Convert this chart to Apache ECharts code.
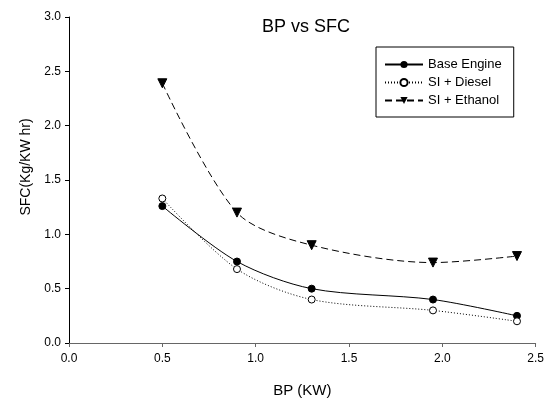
<!DOCTYPE html>
<html>
<head>
<meta charset="utf-8">
<script src="https://cdn.jsdelivr.net/npm/echarts@6/dist/echarts.min.js"></script>
<style>html,body{margin:0;padding:0;background:#fff}#c{width:547px;height:403px}</style>
</head>
<body>
<div id="c"></div>
<script>
var bp = [0.5, 0.9, 1.3, 1.95, 2.4];
var baseEngine = [1.26, 0.75, 0.50, 0.40, 0.25];
var siDiesel = [1.33, 0.68, 0.40, 0.30, 0.20];
var siEthanol = [2.39, 1.20, 0.90, 0.74, 0.80];
var xTicks = [0, 0.5, 1.0, 1.5, 2.0, 2.5];
var yTicks = [0, 0.5, 1.0, 1.5, 2.0, 2.5, 3.0];

function pairs(xs, ys) { return xs.map(function (x, i) { return [x, ys[i]]; }); }
var F = 'Liberation Sans, Arial, sans-serif';
var chart = echarts.init(document.getElementById('c'));
chart.setOption({
  animation: false,
  backgroundColor: '#fff',
  graphic: [{
    type: 'text', x: 306, y: 27,
    style: { text: 'BP vs SFC', fontFamily: F, fontSize: 18, fill: '#000', textAlign: 'center', textVerticalAlign: 'middle' }
  }, {
    type: 'text', x: 26, y: 167, rotation: Math.PI / 2,
    style: { text: 'SFC(Kg/KW hr)', fontFamily: F, fontSize: 14, fill: '#000', textAlign: 'center', textVerticalAlign: 'middle' }
  }],
  legend: {
    orient: 'vertical', left: 376, top: 47,
    padding: [11, 12, 10, 8],
    borderColor: '#000', borderWidth: 1,
    itemWidth: 38, itemHeight: 9, itemGap: 5,
    textStyle: { fontFamily: F, fontSize: 13, color: '#000' },
    data: ['Base Engine', 'SI + Diesel', 'SI + Ethanol']
  },
  grid: { left: 69, right: 9, top: 17, bottom: 59 },
  xAxis: {
    type: 'value', min: xTicks[0], max: xTicks[xTicks.length - 1], interval: 0.5,
    name: 'BP (KW)', nameLocation: 'middle', nameGap: 40,
    nameTextStyle: { fontFamily: F, fontSize: 15, color: '#000' },
    axisLine: { show: true, onZero: false, lineStyle: { color: '#666', width: 1 } },
    axisTick: { show: true, length: 4, lineStyle: { color: '#666' } },
    axisLabel: { fontFamily: F, fontSize: 12, color: '#000', margin: 10, formatter: function (v) { return v.toFixed(1); } },
    splitLine: { show: false }
  },
  yAxis: {
    type: 'value', min: yTicks[0], max: yTicks[yTicks.length - 1], interval: 0.5,
    axisLine: { show: true, onZero: false, lineStyle: { color: '#000', width: 1 } },
    axisTick: { show: true, length: 4, lineStyle: { color: '#000' } },
    axisLabel: { fontFamily: F, fontSize: 12, color: '#000', margin: 8, formatter: function (v) { return v.toFixed(1); } },
    splitLine: { show: false }
  },
  series: [
    {
      name: 'Base Engine', type: 'line', smooth: 0.3, data: pairs(bp, baseEngine),
      symbol: 'circle', symbolSize: 7,
      lineStyle: { color: '#000', width: 1, type: 'solid' },
      itemStyle: { color: '#000', borderColor: '#000' }
    },
    {
      name: 'SI + Diesel', type: 'line', smooth: 0.3, data: pairs(bp, siDiesel),
      symbol: 'circle', symbolSize: 7,
      lineStyle: { color: '#000', width: 1, type: [1, 2] },
      itemStyle: { color: '#fff', borderColor: '#000', borderWidth: 1 }
    },
    {
      name: 'SI + Ethanol', type: 'line', smooth: 0.3, data: pairs(bp, siEthanol),
      symbol: 'triangle', symbolRotate: 180, symbolSize: 9,
      lineStyle: { color: '#000', width: 1, type: [7, 4] },
      itemStyle: { color: '#000', borderColor: '#000' }
    }
  ]
});
</script>
</body>
</html>
